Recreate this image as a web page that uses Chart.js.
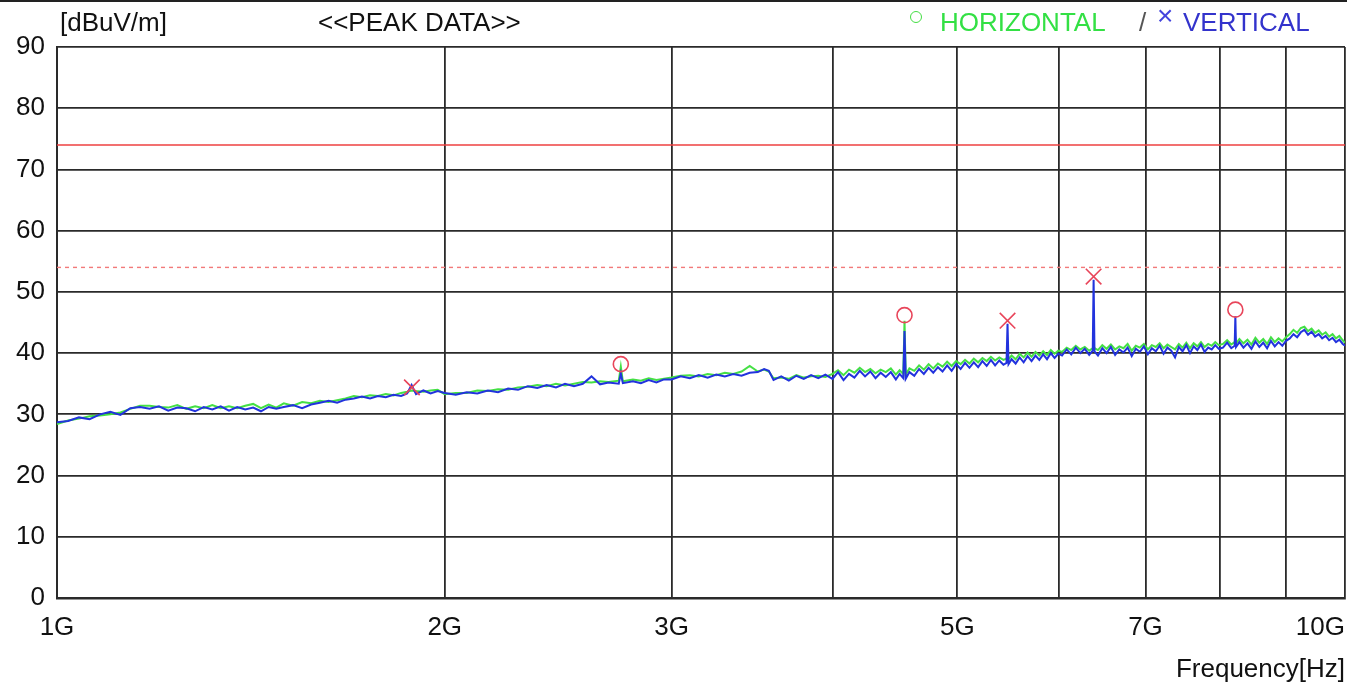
<!DOCTYPE html>
<html><head><meta charset="utf-8">
<script src="https://cdn.jsdelivr.net/npm/chart.js@4.4.1/dist/chart.umd.min.js"></script>
<style>
html,body{margin:0;padding:0;background:#fff;}
#wrap{position:relative;width:1347px;height:682px;overflow:hidden;font-family:"Liberation Sans",Arial,sans-serif;}
#topline{position:absolute;left:0;top:0;width:1347px;height:2px;background:#222;}
canvas{position:absolute;left:0;top:0;}
.t{position:absolute;font-size:26px;line-height:26px;white-space:nowrap;}
#hmark{position:absolute;left:910px;top:11px;width:10px;height:10px;border:1.6px solid #44dd44;border-radius:50%;}
</style></head>
<body><div id="wrap">
<canvas id="c" width="1347" height="682"></canvas>
<div id="topline"></div>
<div class="t" style="left:60px;top:9px;color:#111">[dBuV/m]</div>
<div class="t" style="left:318px;top:9px;color:#111">&lt;&lt;PEAK DATA&gt;&gt;</div>
<div id="hmark"></div>
<div class="t" style="left:940px;top:9px;color:#33e044">HORIZONTAL</div>
<div class="t" style="left:1139px;top:9px;color:#555">/</div>
<div class="t" style="left:1157px;top:2px;color:#4444dd;font-size:28px;line-height:28px">×</div>
<div class="t" style="left:1183px;top:9px;color:#3333cc">VERTICAL</div>
<div class="t" style="right:2px;top:655px;color:#111">Frequency[Hz]</div>
</div>
<script>
// Frequencies in GHz
const freqGHz = [
 1.00,1.02,1.04,1.06,1.08,1.10,1.12,1.14,1.16,1.18,1.20,1.22,1.24,1.26,1.28,1.30,1.32,1.34,1.36,1.38,1.40,1.42,1.44,1.46,1.48,
 1.50,1.525,1.55,1.575,1.60,1.625,1.65,1.675,1.70,1.725,1.75,1.775,1.80,1.825,1.85,1.87,1.885,1.90,1.925,1.95,1.975,
 2.00,2.04,2.08,2.12,2.16,2.20,2.24,2.28,2.32,2.36,2.40,2.44,2.48,2.52,2.56,2.60,2.64,2.68,2.73,2.74,2.75,2.80,2.84,2.88,2.92,2.96,
 3.00,3.05,3.10,3.15,3.20,3.25,3.30,3.35,3.40,3.45,3.50,3.54,3.57,3.60,3.65,3.70,3.75,3.80,3.85,3.90,3.95,
 4.00,4.04,4.08,4.12,4.16,4.20,4.24,4.28,4.32,4.36,4.40,4.44,4.48,4.51,4.54,4.55,4.56,4.59,
 4.63,4.67,4.71,4.75,4.79,4.83,4.87,4.91,4.95,4.99,5.03,5.07,5.11,5.15,5.19,5.23,5.27,5.31,5.35,5.39,5.43,5.46,5.47,5.48,
 5.51,5.55,5.59,5.63,5.67,5.71,5.75,5.79,5.83,5.87,5.91,5.95,5.99,
 6.03,6.08,6.13,6.18,6.23,6.28,6.33,6.37,6.38,6.39,6.43,6.48,6.53,6.58,6.63,6.68,6.73,6.78,6.83,6.88,6.93,6.98,
 7.03,7.08,7.13,7.18,7.23,7.28,7.33,7.38,7.43,7.48,7.53,7.58,7.63,7.68,7.73,7.78,7.83,7.88,7.93,7.98,
 8.04,8.10,8.16,8.21,8.22,8.23,8.28,8.34,8.40,8.46,8.52,8.58,8.64,8.70,8.76,8.82,8.88,8.94,
 9.00,9.06,9.12,9.18,9.24,9.30,9.36,9.42,9.48,9.54,9.60,9.66,9.72,9.78,9.84,9.90,9.96,10.00
];
// Vertical polarization (blue) dBuV/m
const vertical = [
 28.7,28.9,29.5,29.2,30.0,30.4,29.9,31.0,31.2,30.9,31.3,30.6,31.1,31.0,30.5,31.2,30.8,31.3,30.6,31.2,30.8,31.1,30.5,31.2,30.9,
 31.2,31.5,31.0,31.6,31.9,32.2,31.9,32.4,32.6,32.9,32.6,33.0,32.8,33.2,33.0,33.4,34.8,33.3,33.9,33.4,33.8,
 33.5,33.2,33.6,33.4,33.9,33.6,34.2,34.0,34.6,34.3,34.8,34.4,35.0,34.6,35.0,36.2,34.9,35.2,35.0,36.7,35.1,35.4,35.1,35.6,35.2,35.7,
 35.7,36.2,35.9,36.4,36.0,36.5,36.2,36.6,36.3,36.8,36.9,37.4,37.1,35.6,36.2,35.5,36.3,35.8,36.4,35.9,36.5,
 35.8,36.9,35.6,36.6,36.0,37.1,36.2,37.0,35.9,36.8,36.1,36.9,35.7,36.6,35.9,43.6,35.8,36.9,
 36.3,37.4,36.6,37.6,36.8,37.7,37.0,38.0,37.1,38.2,37.4,38.4,37.6,38.5,37.7,38.7,37.9,38.9,38.0,38.8,38.1,38.4,44.8,38.2,
 39.0,38.3,39.3,38.5,39.5,38.7,39.6,38.9,39.8,39.0,40.0,39.2,39.9,
 39.6,40.6,39.8,40.9,40.0,40.7,39.7,40.4,52.0,40.3,39.6,40.8,40.0,41.0,39.7,40.6,40.1,40.9,39.5,40.7,40.2,41.1,
 39.8,40.8,40.3,41.2,39.9,40.9,40.4,39.3,41.0,40.3,41.3,40.0,41.1,40.5,41.4,40.2,40.9,40.6,41.3,40.7,
 40.9,41.7,40.8,41.2,46.0,41.0,41.8,40.9,41.6,40.7,41.9,41.0,41.7,40.8,42.0,41.1,41.8,41.2,
 42.0,42.4,43.1,42.6,43.4,43.8,43.0,43.5,42.7,43.1,42.4,42.8,42.1,42.5,41.8,42.2,41.5,41.2
];
// Horizontal polarization (green) dBuV/m
const horizontal = [
 28.4,29.0,29.3,29.7,29.8,30.0,30.3,30.9,31.4,31.4,31.2,31.1,31.5,30.9,31.3,31.0,31.5,31.0,31.3,31.0,31.4,31.7,31.0,31.6,31.1,
 31.8,31.4,32.0,31.8,32.2,32.0,32.3,32.6,33.0,32.8,33.1,33.0,33.3,33.1,33.5,33.7,33.9,33.8,33.7,33.9,34.0,
 33.3,33.5,33.5,33.9,33.8,34.1,34.0,34.4,34.5,34.8,34.6,35.0,34.7,35.0,35.3,35.2,35.4,35.3,35.5,37.8,35.4,35.7,35.5,35.9,35.6,35.8,
 36.0,36.3,36.4,36.2,36.6,36.4,36.8,36.6,37.0,37.9,37.0,37.3,37.0,35.9,36.0,35.8,36.4,36.0,36.2,36.3,36.1,
 36.6,37.2,36.4,37.3,36.8,37.6,36.9,37.4,36.7,37.3,36.9,37.5,36.5,37.2,36.6,45.3,36.5,37.5,
 37.1,38.0,37.3,38.2,37.5,38.3,37.8,38.6,37.9,38.7,38.2,38.9,38.3,39.1,38.5,39.2,38.7,39.4,38.8,39.3,38.9,39.1,39.8,39.0,
 39.6,39.0,39.9,39.3,40.1,39.4,40.2,39.6,40.3,39.7,40.5,39.9,40.4,
 40.2,40.9,40.5,41.2,40.6,41.0,40.4,40.8,41.3,40.8,40.5,41.3,40.7,41.4,40.6,41.1,40.8,41.5,40.4,41.2,40.9,41.5,
 40.6,41.3,41.0,41.6,40.8,41.4,41.0,40.6,41.5,40.9,41.7,40.8,41.6,41.1,41.8,41.0,41.5,41.2,41.8,41.3,
 41.5,42.1,41.4,41.8,42.4,41.6,42.3,41.6,42.2,41.4,42.5,41.7,42.3,41.5,42.6,41.8,42.4,41.9,
 42.6,43.1,43.8,43.3,44.1,44.3,43.6,44.0,43.3,43.7,43.0,43.4,42.7,43.1,42.4,42.8,42.1,41.7
];
// Marked peaks
const hPeakFreq = [2.74, 4.55, 8.22];
const hPeakLevel = [38.2, 46.2, 47.1];
const vPeakFreq = [1.886, 5.47, 6.38];
const vPeakLevel = [34.4, 45.3, 52.5];
// Limit lines
const limitFreq = [1, 10];
const limitPeak = [74, 74];
const limitAvg = [54, 54];
// Axes
const gridFreqs = [1,2,3,4,5,6,7,8,9,10];
const xTickValues = [1,2,3,5,7,10];
const xTickLabels = ['1G','2G','3G','5G','7G','10G'];
const yTicks = [0,10,20,30,40,50,60,70,80,90];

const pts = (xs, ys) => xs.map((x,i)=>({x:x, y:ys[i]}));
const FONT = '"Liberation Sans", Arial, sans-serif';

const xLabelPlugin = {
  id:'xLabels',
  afterDraw(chart){
    const ctx = chart.ctx, x = chart.scales.x;
    ctx.save();
    ctx.font = '26px ' + FONT;
    ctx.fillStyle = '#111';
    ctx.textBaseline = 'middle';
    xTickValues.forEach((v,i)=>{
      const px = x.getPixelForValue(v);
      ctx.textAlign = (i === xTickValues.length-1) ? 'right' : 'center';
      ctx.fillText(xTickLabels[i], px, 628);
    });
    ctx.restore();
  }
};

new Chart(document.getElementById('c'), {
  type:'line',
  data:{
    datasets:[
      {label:'H peaks', type:'scatter', data:pts(hPeakFreq,hPeakLevel), pointStyle:'circle', pointRadius:7.5, pointBorderWidth:1.6, borderColor:'#e8455a', backgroundColor:'rgba(0,0,0,0)', pointBackgroundColor:'rgba(0,0,0,0)', pointBorderColor:'#e8455a', showLine:false, order:0},
      {label:'V peaks', type:'scatter', data:pts(vPeakFreq,vPeakLevel), pointStyle:'crossRot', pointRadius:11, pointBorderWidth:1.6, borderColor:'#e8455a', pointBorderColor:'#e8455a', showLine:false, order:1},
      {label:'VERTICAL', data:pts(freqGHz,vertical), borderColor:'#2233dd', borderWidth:2, pointRadius:0, tension:0, order:2},
      {label:'HORIZONTAL', data:pts(freqGHz,horizontal), borderColor:'#44e044', borderWidth:2, pointRadius:0, tension:0, order:3},
      {label:'Limit Peak', data:pts(limitFreq,limitPeak), borderColor:'#ee4040', borderWidth:1.5, pointRadius:0, order:4},
      {label:'Limit Avg', data:pts(limitFreq,limitAvg), borderColor:'#f27a7a', borderWidth:1.4, borderDash:[4,4], pointRadius:0, order:5}
    ]
  },
  options:{
    responsive:false,
    animation:false,
    events:[],
    layout:{autoPadding:false, padding:{top:47,right:2,bottom:84,left:0}},
    plugins:{legend:{display:false}, tooltip:{enabled:false}, title:{display:false}},
    scales:{
      x:{
        type:'logarithmic', min:1, max:10,
        afterBuildTicks(s){ s.ticks = gridFreqs.map(v=>({value:v})); },
        afterFit(s){ s.height = 0; s.paddingLeft = 0; s.paddingRight = 0; },
        ticks:{display:false},
        grid:{color:'#2a2a2a', lineWidth:1.8, drawTicks:false},
        border:{display:true, color:'#2a2a2a', width:2.5}
      },
      y:{
        min:0, max:90,
        afterBuildTicks(s){ s.ticks = yTicks.map(v=>({value:v})); },
        afterFit(s){ s.width = 57; s.paddingTop = 0; s.paddingBottom = 0; },
        ticks:{color:'#111', font:{family:FONT, size:26}, padding:12},
        grid:{color:'#2a2a2a', lineWidth:1.8, drawTicks:false},
        border:{display:true, color:'#2a2a2a', width:2}
      }
    }
  },
  plugins:[xLabelPlugin]
});
</script>
</body></html>
